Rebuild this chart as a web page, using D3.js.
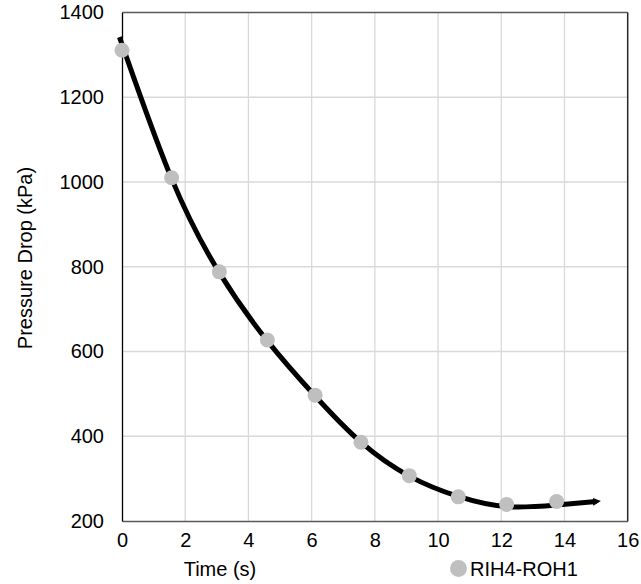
<!DOCTYPE html>
<html><head><meta charset="utf-8">
<script src="https://cdn.jsdelivr.net/npm/d3@7"></script>
<style>body{margin:0;background:#fff;}svg{display:block;}text{font-family:"Liberation Sans",Arial,sans-serif;fill:#000;}</style>
</head><body>
<svg id="chart" width="641" height="584"></svg>
<script>
// data
const pointTimes = [0, 1.57, 3.08, 4.6, 6.11, 7.56, 9.09, 10.64, 12.17, 13.75];
const pointValues = [1311, 1010, 788, 627, 497, 386, 307, 257, 239, 246];
const trendTimes = [-0.08, 1.57, 3.08, 4.6, 6.11, 7.56, 9.09, 10.64, 12.17, 13.75, 15.0];
const trendValues = [1342, 1008, 786, 625, 495, 386, 306, 258, 234, 238, 246];
const xTicks = [0, 2, 4, 6, 8, 10, 12, 14, 16];
const yTicks = [200, 400, 600, 800, 1000, 1200, 1400];
const seriesName = "RIH4-ROH1";

const svg = d3.select("#chart");
const L = 122, R = 627.7, T = 12.5, B = 521;
const x = d3.scaleLinear().domain([0, 16]).range([L, R]);
const y = d3.scaleLinear().domain([200, 1400]).range([B, T]);

// gridlines
svg.append("g").selectAll("line").data(xTicks.filter(d => d > 0 && d < 16)).join("line")
  .attr("x1", d => x(d)).attr("x2", d => x(d)).attr("y1", T).attr("y2", B)
  .attr("stroke", "#d9d9d9").attr("stroke-width", 1.3);
svg.append("g").selectAll("line").data(yTicks.filter(d => d > 200 && d < 1400)).join("line")
  .attr("x1", L).attr("x2", R).attr("y1", d => y(d)).attr("y2", d => y(d))
  .attr("stroke", "#d9d9d9").attr("stroke-width", 1.3);

// border
svg.append("line").attr("x1", L).attr("x2", R).attr("y1", T).attr("y2", T).attr("stroke", "#595959").attr("stroke-width", 1.3);
svg.append("line").attr("x1", R).attr("x2", R).attr("y1", T).attr("y2", B).attr("stroke", "#262626").attr("stroke-width", 1.5);

// axes
const xAxis = d3.axisBottom(x).tickValues(xTicks).tickFormat(d3.format("d")).tickSize(0).tickPadding(12);
const gx = svg.append("g").attr("transform", `translate(0,${B})`).call(xAxis);
gx.select(".domain").attr("stroke", "#595959").attr("stroke-width", 1.5);
gx.selectAll("text").attr("font-size", 20).attr("font-family", "Liberation Sans, Arial, sans-serif");

const yAxis = d3.axisLeft(y).tickValues(yTicks).tickFormat(d3.format("d")).tickSize(0).tickPadding(18);
const gy = svg.append("g").attr("transform", `translate(${L},0)`).call(yAxis);
gy.select(".domain").attr("stroke", "#000").attr("stroke-width", 1.3);
gy.selectAll("text").attr("font-size", 20).attr("font-family", "Liberation Sans, Arial, sans-serif");

// trend line
const defs = svg.append("defs");
defs.append("marker").attr("id", "arr").attr("viewBox", "0 0 10 10").attr("refX", 4).attr("refY", 5)
  .attr("markerWidth", 1.6).attr("markerHeight", 1.8).attr("orient", "auto")
  .append("path").attr("d", "M0,0 L10,5 L0,10 z").attr("fill", "#000");

const line = d3.line().x(d => x(d[0])).y(d => y(d[1])).curve(d3.curveNatural);
svg.append("path").datum(d3.zip(trendTimes, trendValues))
  .attr("d", line).attr("fill", "none").attr("stroke", "#000").attr("stroke-width", 5)
  .attr("marker-end", "url(#arr)");

// points
svg.append("g").selectAll("circle").data(d3.zip(pointTimes, pointValues)).join("circle")
  .attr("cx", d => x(d[0])).attr("cy", d => y(d[1])).attr("r", 7.5).attr("fill", "#bfbfbf");

// axis titles
svg.append("text").attr("x", 220).attr("y", 576).attr("text-anchor", "middle").attr("font-size", 20).text("Time (s)");
svg.append("text").attr("transform", "translate(32,258) rotate(-90)").attr("text-anchor", "middle").attr("font-size", 20).text("Pressure Drop (kPa)");

// legend
svg.append("circle").attr("cx", 458.5).attr("cy", 568.5).attr("r", 8.5).attr("fill", "#bfbfbf");
svg.append("text").attr("x", 470).attr("y", 576).attr("font-size", 20).text(seriesName);
</script>
</body></html>
